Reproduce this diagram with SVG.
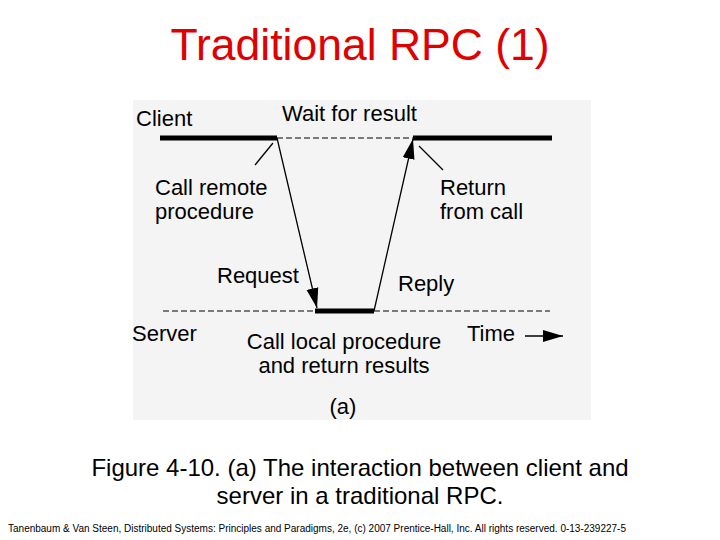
<svg xmlns="http://www.w3.org/2000/svg" width="720" height="540" viewBox="0 0 720 540">
<style>
text{font-family:"Liberation Sans",Arial,sans-serif;fill:#000}
.l{font-size:22px}
.thick{stroke:#000;stroke-width:5}
.thin{stroke:#000;stroke-width:1.3;fill:none}
.dash{stroke:#000;stroke-width:1;stroke-dasharray:6,3}
</style>
<defs>
<marker id="ahb" viewBox="0 0 10 10" refX="10" refY="5" markerWidth="20" markerHeight="20" orient="auto" markerUnits="userSpaceOnUse">
<path d="M0,2 L10,5 L0,8 z" fill="#000"/>
</marker>
</defs>
<rect width="720" height="540" fill="#fff"/>
<text x="360" y="60" font-size="44.5" style="fill:#e00000" text-anchor="middle">Traditional RPC (1)</text>
<rect x="133" y="100" width="458" height="320" fill="#f4f4f4"/>
<g id="client"><text class="l" x="136" y="126">Client</text>
<line class="thick" x1="160" y1="138" x2="277" y2="138"/><line class="thick" x1="413" y1="138" x2="552" y2="138"/></g>
<g id="server"><text class="l" x="132" y="341">Server</text>
<line class="thick" x1="315" y1="311" x2="374" y2="311"/></g>
<g id="labels">
<text class="l" x="282" y="121">Wait for result</text>
<text class="l" x="155" y="195">Call remote</text><text class="l" x="155" y="219">procedure</text>
<text class="l" x="440" y="195">Return</text><text class="l" x="440" y="219">from call</text>
<text class="l" x="217" y="283">Request</text>
<text class="l" x="398" y="291">Reply</text>
<text class="l" x="344" y="349" text-anchor="middle">Call local procedure</text>
<text class="l" x="344" y="373" text-anchor="middle">and return results</text>
<text class="l" x="467" y="341">Time</text>
<text class="l" x="343" y="414" text-anchor="middle">(a)</text>
</g>
<g id="connectors">
<line class="dash" x1="277" y1="138" x2="413" y2="138"/>
<line class="dash" x1="163" y1="311" x2="315" y2="311"/>
<line class="dash" x1="374" y1="311" x2="550" y2="311"/>
<line class="thin" x1="277" y1="138" x2="317" y2="308" marker-end="url(#ahb)"/>
<line class="thin" x1="374" y1="311" x2="413" y2="139" marker-end="url(#ahb)"/>
<line class="thin" x1="255" y1="165" x2="273" y2="143"/>
<line class="thin" x1="443" y1="170" x2="419" y2="146"/>
<line class="thin" x1="525" y1="336" x2="563" y2="336" marker-end="url(#ahb)"/>
</g>
<text x="360" y="476" font-size="24" text-anchor="middle">Figure 4-10. (a) The interaction between client and</text>
<text x="360" y="504" font-size="24" text-anchor="middle">server in a traditional RPC.</text>
<text x="8" y="532" font-size="10" textLength="618" lengthAdjust="spacingAndGlyphs">Tanenbaum &amp; Van Steen, Distributed Systems: Principles and Paradigms, 2e, (c) 2007 Prentice-Hall, Inc. All rights reserved. 0-13-239227-5</text>
</svg>
